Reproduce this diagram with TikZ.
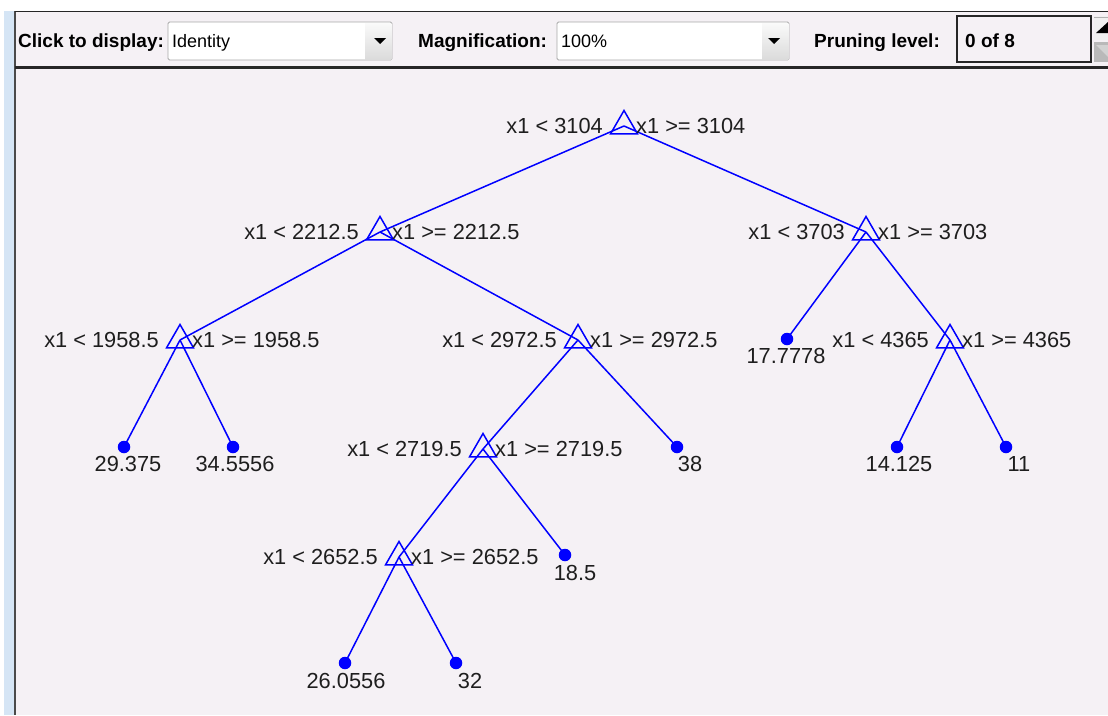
\documentclass[tikz,border=0pt]{standalone}
\usepackage{fontspec}
\setmainfont{Liberation Sans}
\usetikzlibrary{shapes.geometric,calc}

\definecolor{panelbg}{HTML}{F5F1F5}
\definecolor{stripblue}{HTML}{D5E5F5}
\definecolor{frameline}{HTML}{4A4A4A}
\definecolor{treeblue}{HTML}{0000FF}
\definecolor{labelgray}{HTML}{1E1E1E}
\definecolor{boxedge}{HTML}{A8A8A8}

\begin{document}
\begin{tikzpicture}[x=1pt,y=-1pt,
  split/.style={regular polygon, regular polygon sides=3, draw=treeblue,
    line width=1.5pt, minimum size=31pt, inner sep=0pt, outer sep=0pt},
  leaf/.style={circle, fill=treeblue, minimum size=12.5pt, inner sep=0pt, outer sep=0pt},
  edge/.style={draw=treeblue, line width=1.5pt},
  rule/.style={font=\fontsize{21.8}{25}\selectfont, text=labelgray, inner sep=0pt},
  ctrl/.style={font=\fontsize{19}{22}\selectfont\bfseries, text=black, inner sep=0pt, anchor=base west},
  entry/.style={font=\fontsize{18}{22}\selectfont, text=black, inner sep=0pt, anchor=base west},
  combo/.style={draw=boxedge, fill=white, line width=0.9pt, rounded corners=1.5pt},
  dropbtn/.style={top color=gray!4, bottom color=gray!28, draw=none},
]
\useasboundingbox (0,0) rectangle (1108,715);

% window frame and panels
\fill[white] (0,0) rectangle (1108,715);
\fill[stripblue] (4,11) rectangle (14,715);
\fill[panelbg] (15,11) rectangle (1108,715);
\draw[frameline, line width=2pt] (15,11) -- (15,715);
\draw[black!85, line width=1.3pt] (15,11.6) -- (1108,11.6);
\draw[black!85, line width=3pt] (15,67.5) -- (1108,67.5);

% toolbar: display selector
\node[ctrl] (dispLbl) at (18,47) {Click to display:};
\draw[combo] (168,22) rectangle (392,60);
\fill[dropbtn] (365,23) rectangle (391.3,59);
\fill[black] (374,38) -- (386,38) -- (380,44) -- cycle;
\node[entry] (dispVal) at (172,47) {Identity};

% toolbar: magnification selector
\node[ctrl] (magLbl) at (418,47) {Magnification:};
\draw[combo] (557,22) rectangle (789,60);
\fill[dropbtn] (762,23) rectangle (788.3,59);
\fill[black] (768,38) -- (780,38) -- (774,44) -- cycle;
\node[entry] (magVal) at (561,47) {100\%};

% toolbar: pruning level with spinner
\node[ctrl] (pruneLbl) at (814,47) {Pruning level:};
\draw[black!85, line width=1.3pt] (957,16) rectangle (1091,62);
\node[ctrl] (pruneVal) at (965,47) {0 of 8};
\begin{scope}
  \clip (1094,14) rectangle (1108,64);
  \fill[gray!12] (1094,16) rectangle (1108,40);
  \draw[gray!60, line width=0.8pt] (1094,17) -- (1108,17);
  \fill[black] (1096,33) -- (1120,33) -- (1108,22) -- cycle;
  \fill[gray!55] (1094,42) rectangle (1108,62);
  \fill[gray!35] (1096,45) -- (1120,45) -- (1108,57) -- cycle;
\end{scope}

% tree: split nodes
\node[split] (n1) at (624,126) {};
\node[split] (n2) at (380,232) {};
\node[split] (n3) at (866,232) {};
\node[split] (n4) at (180,340) {};
\node[split] (n5) at (578,340) {};
\node[split] (n7) at (950,340) {};
\node[split] (n10) at (483,449) {};
\node[split] (n14) at (399,557) {};

% tree: leaves
\node[leaf] (f6) at (787,339) {};
\node[leaf] (f8) at (124,447) {};
\node[leaf] (f9) at (233,447) {};
\node[leaf] (f11) at (677,447) {};
\node[leaf] (f12) at (897,447) {};
\node[leaf] (f13) at (1006,447) {};
\node[leaf] (f15) at (565,555) {};
\node[leaf] (f16) at (345,663) {};
\node[leaf] (f17) at (456,663) {};

% tree: branches
\draw[edge] (n1.center) -- (n2.center);
\draw[edge] (n1.center) -- (n3.center);
\draw[edge] (n2.center) -- (n4.center);
\draw[edge] (n2.center) -- (n5.center);
\draw[edge] (n3.center) -- (f6.center);
\draw[edge] (n3.center) -- (n7.center);
\draw[edge] (n4.center) -- (f8.center);
\draw[edge] (n4.center) -- (f9.center);
\draw[edge] (n5.center) -- (n10.center);
\draw[edge] (n5.center) -- (f11.center);
\draw[edge] (n7.center) -- (f12.center);
\draw[edge] (n7.center) -- (f13.center);
\draw[edge] (n10.center) -- (n14.center);
\draw[edge] (n10.center) -- (f15.center);
\draw[edge] (n14.center) -- (f16.center);
\draw[edge] (n14.center) -- (f17.center);

% split rules
\node[rule, anchor=east] (r1l) at ($(n1.center)+(-21,0)$) {x1 < 3104};
\node[rule, anchor=west] (r1r) at ($(n1.center)+(12,0)$) {x1 >= 3104};
\node[rule, anchor=east] (r2l) at ($(n2.center)+(-21,0)$) {x1 < 2212.5};
\node[rule, anchor=west] (r2r) at ($(n2.center)+(12,0)$) {x1 >= 2212.5};
\node[rule, anchor=east] (r3l) at ($(n3.center)+(-21,0)$) {x1 < 3703};
\node[rule, anchor=west] (r3r) at ($(n3.center)+(12,0)$) {x1 >= 3703};
\node[rule, anchor=east] (r4l) at ($(n4.center)+(-21,0)$) {x1 < 1958.5};
\node[rule, anchor=west] (r4r) at ($(n4.center)+(12,0)$) {x1 >= 1958.5};
\node[rule, anchor=east] (r5l) at ($(n5.center)+(-21,0)$) {x1 < 2972.5};
\node[rule, anchor=west] (r5r) at ($(n5.center)+(12,0)$) {x1 >= 2972.5};
\node[rule, anchor=east] (r7l) at ($(n7.center)+(-21,0)$) {x1 < 4365};
\node[rule, anchor=west] (r7r) at ($(n7.center)+(12,0)$) {x1 >= 4365};
\node[rule, anchor=east] (r10l) at ($(n10.center)+(-21,0)$) {x1 < 2719.5};
\node[rule, anchor=west] (r10r) at ($(n10.center)+(12,0)$) {x1 >= 2719.5};
\node[rule, anchor=east] (r14l) at ($(n14.center)+(-21,0)$) {x1 < 2652.5};
\node[rule, anchor=west] (r14r) at ($(n14.center)+(12,0)$) {x1 >= 2652.5};

% leaf values
\node[rule] (v6) at ($(f6.center)+(-1,17)$) {17.7778};
\node[rule] (v8) at ($(f8.center)+(4,17)$) {29.375};
\node[rule] (v9) at ($(f9.center)+(2,17)$) {34.5556};
\node[rule] (v11) at ($(f11.center)+(13,17)$) {38};
\node[rule] (v12) at ($(f12.center)+(2,17)$) {14.125};
\node[rule] (v13) at ($(f13.center)+(13,17)$) {11};
\node[rule] (v15) at ($(f15.center)+(10,18)$) {18.5};
\node[rule] (v16) at ($(f16.center)+(1,18)$) {26.0556};
\node[rule] (v17) at ($(f17.center)+(14,18)$) {32};
\end{tikzpicture}
\end{document}
